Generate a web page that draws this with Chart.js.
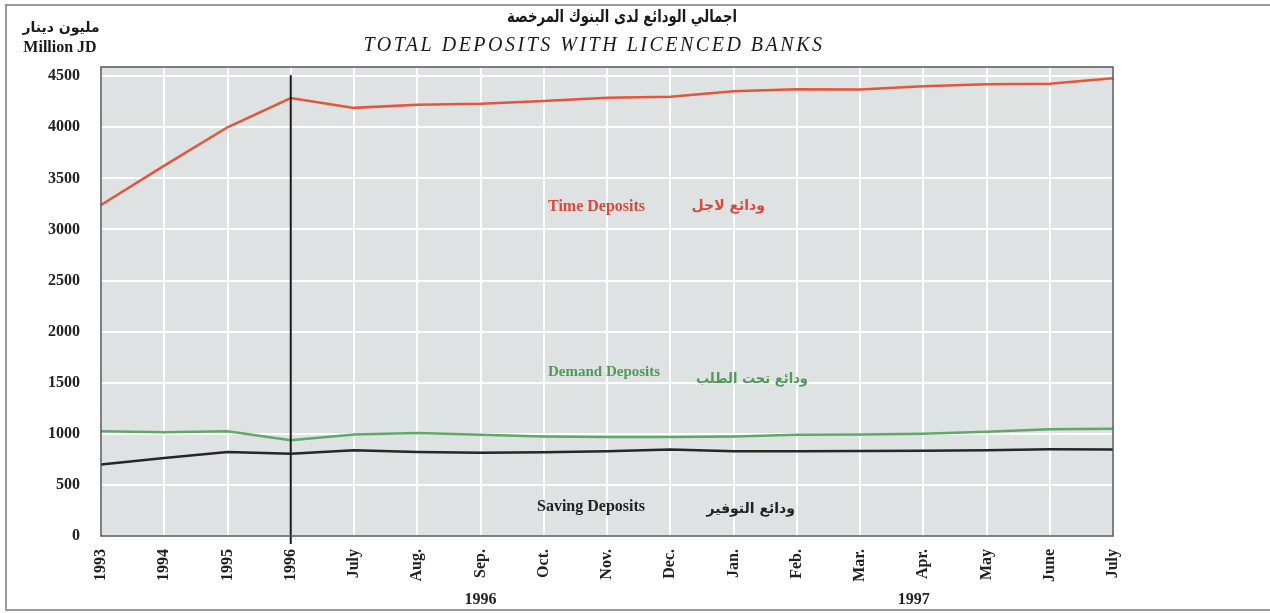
<!DOCTYPE html>
<html>
<head>
<meta charset="utf-8">
<script src="https://cdn.jsdelivr.net/npm/chart.js@4"></script>
<style>
  html, body { margin: 0; padding: 0; background: #fff; }
  #wrap { width: 1270px; height: 613px; }
</style>
</head>
<body>
<div id="wrap"><canvas id="depositsChart" width="1270" height="613"></canvas></div>
<script>
// values (million JD)
const categories = ["1993", "1994", "1995", "1996", "July", "Aug.", "Sep.", "Oct.", "Nov.", "Dec.",
                    "Jan.", "Feb.", "Mar.", "Apr.", "May", "June", "July"];
const timeDeposits = [3240, 3625, 4000, 4286, 4190, 4220, 4230, 4258, 4290, 4300,
                      4353, 4373, 4371, 4402, 4420, 4425, 4480];
const demandDeposits = [1026, 1016, 1026, 937, 993, 1009, 992, 975, 969, 969,
                        975, 990, 993, 1000, 1020, 1045, 1050];
const savingDeposits = [700, 763, 822, 806, 838, 822, 814, 820, 830, 846,
                        830, 830, 832, 835, 840, 848, 846];
const yTicks = [0, 500, 1000, 1500, 2000, 2500, 3000, 3500, 4000, 4500];
const yearGroups = [{ label: "1996", at: 6 }, { label: "1997", at: 12.85 }];
const splitIndex = 3;

const serif = "'Liberation Serif', 'Times New Roman', serif";
const arabic = "'DejaVu Sans', sans-serif";

function txt(ctx, s, x, y, font, color, align, maxW) {
    ctx.font = font;
    ctx.fillStyle = color;
    ctx.textAlign = align || "left";
    ctx.textBaseline = "middle";
    if (maxW) ctx.fillText(s, x, y, maxW);
    else ctx.fillText(s, x, y);
}

const decor = {
    id: "decor",
    beforeDraw(chart) {
        const ctx = chart.ctx, a = chart.chartArea;
        ctx.save();
        ctx.fillStyle = "#ffffff";
        ctx.fillRect(0, 0, chart.width, chart.height);
        ctx.fillStyle = "#dee2e2";
        ctx.fillRect(a.left, a.top, a.right - a.left, a.bottom - a.top);
        ctx.restore();
    },
    afterDatasetsDraw(chart) {
        const ctx = chart.ctx, a = chart.chartArea;
        const xs = chart.scales.x, ys = chart.scales.y;
        ctx.save();

        // divider at 1996
        const sx = xs.getPixelForValue(splitIndex);
        ctx.strokeStyle = "#1a1a1a";
        ctx.lineWidth = 2;
        ctx.beginPath();
        ctx.moveTo(sx, ys.getPixelForValue(4510));
        ctx.lineTo(sx, a.bottom + 8);
        ctx.stroke();

        // plot frame
        ctx.strokeStyle = "#555";
        ctx.lineWidth = 1.5;
        ctx.strokeRect(a.left, a.top, a.right - a.left, a.bottom - a.top);

        // page frame
        ctx.strokeStyle = "#999";
        ctx.lineWidth = 2;
        ctx.beginPath();
        ctx.moveTo(1270, 5); ctx.lineTo(6, 5); ctx.lineTo(6, 610); ctx.lineTo(1270, 610);
        ctx.stroke();

        // titles
        txt(ctx, "اجمالي الودائع لدى البنوك المرخصة", 622, 18, "bold 17px " + arabic, "#1a1a1a", "center", 230);
        ctx.letterSpacing = "2.5px";
        txt(ctx, "TOTAL DEPOSITS WITH LICENCED BANKS", 594, 46, "italic 20px " + serif, "#1a1a1a", "center");
        ctx.letterSpacing = "0px";
        txt(ctx, "مليون دينار", 61, 28, "bold 14px " + arabic, "#1a1a1a", "center");
        txt(ctx, "Million JD", 60, 48, "bold 16px " + serif, "#1a1a1a", "center");

        // series labels
        txt(ctx, "Time Deposits", 548, 207, "bold 16px " + serif, "#d9483d");
        txt(ctx, "ودائع لاجل", 765, 206, "bold 14px " + arabic, "#d9483d", "right");
        txt(ctx, "Demand Deposits", 548, 372, "bold 15px " + serif, "#4f9a56");
        txt(ctx, "ودائع تحت الطلب", 808, 379, "bold 14px " + arabic, "#4f9a56", "right", 112);
        txt(ctx, "Saving Deposits", 537, 507, "bold 16px " + serif, "#222");
        txt(ctx, "ودائع التوفير", 795, 509, "bold 14px " + arabic, "#222", "right");

        // year group labels
        for (const g of yearGroups) {
            txt(ctx, g.label, xs.getPixelForValue(g.at), 600, "bold 16px " + serif, "#222", "center");
        }
        ctx.restore();
    }
};

const ctx = document.getElementById("depositsChart").getContext("2d");

const chart = new Chart(ctx, {
    type: "line",
    data: {
        labels: categories,
        datasets: [
            { label: "Time Deposits", data: timeDeposits, borderColor: "#e5553b", borderWidth: 2.5 },
            { label: "Demand Deposits", data: demandDeposits, borderColor: "#5fa866", borderWidth: 2.5 },
            { label: "Saving Deposits", data: savingDeposits, borderColor: "#262626", borderWidth: 2.5 }
        ]
    },
    options: {
        animation: false,
        responsive: false,
        devicePixelRatio: 1,
        elements: { point: { radius: 0 }, line: { tension: 0 } },
        layout: { padding: { top: 67, right: 157, left: 0, bottom: 0 } },
        plugins: { legend: { display: false }, title: { display: false }, tooltip: { enabled: false } },
        scales: {
            x: {
                offset: false,
                grid: { color: "#ffffff", lineWidth: 2, drawTicks: false },
                border: { display: false },
                ticks: {
                    autoSkip: false, maxRotation: 90, minRotation: 90, padding: 13,
                    color: "#222", font: { family: serif, size: 16, weight: "bold" }
                },
                afterFit(scale) { scale.height = 77; }
            },
            y: {
                min: 0, max: 4590,
                grid: { color: "#ffffff", lineWidth: 2, drawTicks: false },
                border: { display: false },
                ticks: {
                    stepSize: 500, padding: 21,
                    color: "#222", font: { family: serif, size: 16, weight: "bold" },
                    callback: (v) => String(v)
                },
                afterBuildTicks(scale) {
                    scale.ticks = yTicks.map(v => ({ value: v }));
                },
                afterFit(scale) { scale.width = 101; }
            }
        }
    },
    plugins: [decor]
});
</script>
</body>
</html>
